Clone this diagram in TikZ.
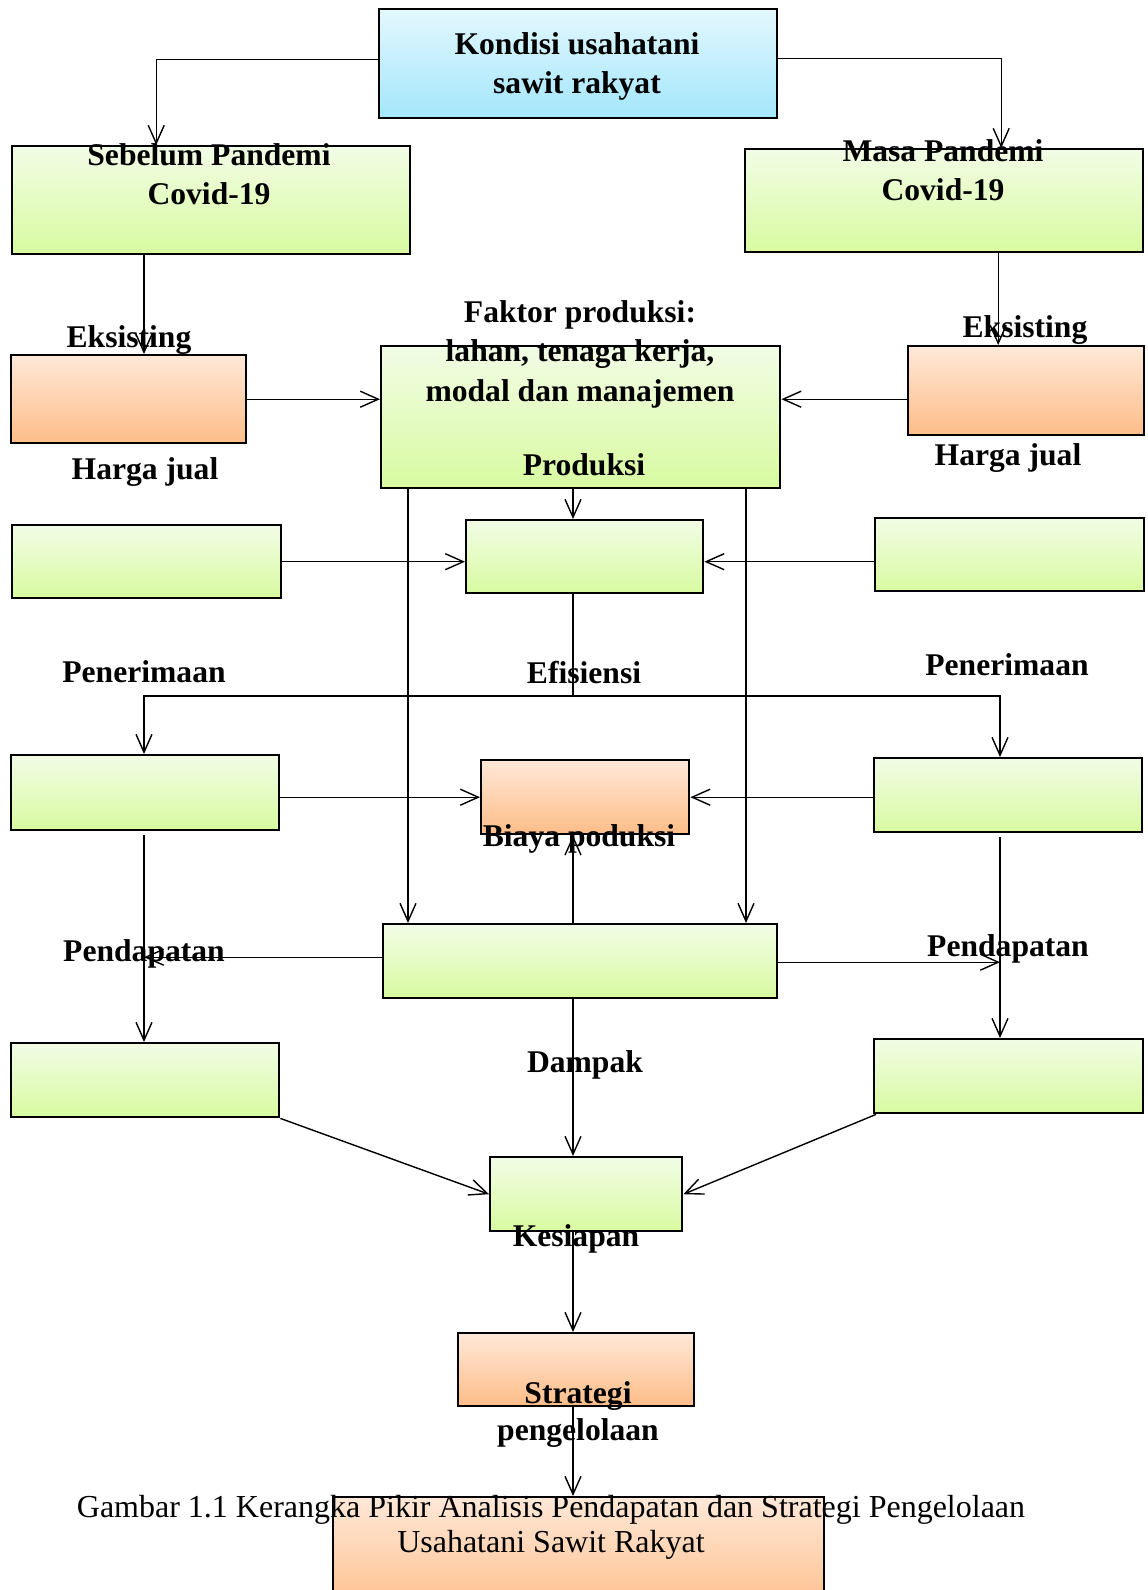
\documentclass[tikz,border=0pt]{standalone}
\usepackage{fontspec}
\setmainfont{Liberation Serif}
\usetikzlibrary{arrows.meta,calc}
\definecolor{gTop}{HTML}{F2FCE6}
\definecolor{gBot}{HTML}{D8FBA0}
\definecolor{bTop}{HTML}{E3F8FE}
\definecolor{bBot}{HTML}{A3E6FB}
\definecolor{oTop}{HTML}{FFE8D8}
\definecolor{oBot}{HTML}{FDBD88}
\tikzset{
  basebox/.style={draw, line width=1.2pt, inner sep=0pt, anchor=north west, rectangle},
  gbox/.style={basebox, top color=gTop, bottom color=gBot},
  bluebox/.style={basebox, top color=bTop, bottom color=bBot},
  obox/.style={basebox, top color=oTop, bottom color=oBot},
  lbl/.style={font=\fontsize{15.8}{19.75}\selectfont\bfseries, align=center, inner sep=0pt},
  captext/.style={font=\fontsize{16}{17.5}\selectfont, align=center, inner sep=0pt},
  arr/.style={-{Straight Barb[length=9pt,width=8pt]}, line width=0.7pt},
  ln/.style={line width=0.7pt},
}
\begin{document}
\begin{tikzpicture}[x=0.5pt,y=-0.5pt]
\useasboundingbox (0,0) rectangle (1147,1590);
% boxes
\node[bluebox, minimum width=199pt, minimum height=54.5pt] (top) at (378,8) {};
\node[gbox, minimum width=199pt, minimum height=54pt] (sebelum) at (11,145) {};
\node[gbox, minimum width=199pt, minimum height=51.5pt] (masa) at (744,148) {};
\node[obox, minimum width=117.5pt, minimum height=44pt] (hargaL) at (10,354) {};
\node[gbox, minimum width=199.5pt, minimum height=71pt] (faktor) at (380,345) {};
\node[obox, minimum width=118pt, minimum height=44.5pt] (hargaR) at (907,345) {};
\node[gbox, minimum width=134.5pt, minimum height=36.5pt] (r2L) at (11,524) {};
\node[gbox, minimum width=118.5pt, minimum height=36.5pt] (r2C) at (465,519) {};
\node[gbox, minimum width=134.5pt, minimum height=36.5pt] (r2R) at (874,517) {};
\node[gbox, minimum width=134pt, minimum height=37.5pt] (r3L) at (10,754) {};
\node[obox, minimum width=104pt, minimum height=37pt] (r3C) at (480,759) {};
\node[gbox, minimum width=134pt, minimum height=37pt] (r3R) at (873,757) {};
\node[gbox, minimum width=197pt, minimum height=37pt] (mid) at (382,923) {};
\node[gbox, minimum width=134pt, minimum height=37pt] (r4L) at (10,1042) {};
\node[gbox, minimum width=134.5pt, minimum height=37pt] (r4R) at (873,1038) {};
\node[gbox, minimum width=96pt, minimum height=37pt] (kes) at (489,1156) {};
\node[obox, minimum width=118pt, minimum height=36.5pt] (strat) at (457,1332) {};
\node[obox, minimum width=245.5pt, minimum height=60pt] (last) at (332,1496) {};
% helper coordinates
\coordinate (lx) at (144,0);
\coordinate (rx) at (1000,0);
\coordinate (cx) at (573,0);
\coordinate (clx) at (408,0);
\coordinate (crx) at (746,0);
\coordinate (jn) at (573,696);
% labels
\node[lbl] (tTop) at (577,66.5) {Kondisi usahatani\\sawit rakyat};
\node[lbl] (tSeb) at (209,174) {Sebelum Pandemi\\Covid-19};
\node[lbl] (tMasa) at (943,170) {Masa Pandemi\\Covid-19};
\node[lbl] (tEksL) at (129,340) {Eksisting};
\node[lbl] (tHjL) at (145,472) {Harga jual};
\node[lbl] (tFak) at (580,354) {Faktor produksi:\\lahan, tenaga kerja,\\modal dan manajemen};
\node[lbl] (tProd) at (584,465) {Produksi};
\node[lbl] (tEksR) at (1025,330) {Eksisting};
\node[lbl] (tHjR) at (1008,458) {Harga jual};
\node[lbl] (tPenL) at (144,672) {Penerimaan};
\node[lbl] (tEfi) at (584,673) {Efisiensi};
\node[lbl] (tPenR) at (1007,665) {Penerimaan};
\node[lbl] (tBia) at (579,839) {Biaya poduksi};
\node[lbl] (tPdL) at (144,954) {Pendapatan};
\node[lbl] (tPdR) at (1008,949) {Pendapatan};
\node[lbl] (tDam) at (585,1065) {Dampak};
\node[lbl] (tKes) at (576,1239) {Kesiapan};
\node[lbl, font=\fontsize{15.8}{18.5}\selectfont\bfseries] (tStr) at (578,1414.5) {Strategi\\pengelolaan};
% connectors
\draw[arr] ([yshift=2.25pt]top.west) -| ([xshift=-27.5pt]sebelum.north);
\draw[arr] ([yshift=2.75pt]top.east) -| ([xshift=28.5pt]masa.north);
\draw[arr] (sebelum.south -| lx) -- (hargaL.north -| lx);
\draw[arr] ([xshift=27pt]masa.south) -- ([xshift=27pt]masa.south |- hargaR.north);
\draw[arr] (hargaL.east) -- (hargaL.east -| faktor.west);
\draw[arr] (hargaR.west |- hargaL.east) -- (faktor.east |- hargaL.east);
\draw[arr] (faktor.south -| cx) -- (r2C.north -| cx);
\draw[arr] (faktor.south -| clx) -- (mid.north -| clx);
\draw[arr] (faktor.south -| crx) -- (mid.north -| crx);
\draw[arr] (r2L.east) -- (r2L.east -| r2C.west);
\draw[arr] (r2R.west |- r2L.east) -- (r2C.east |- r2L.east);
\draw[ln] (r2C.south -| cx) -- (jn);
\draw[arr] (jn) -| (r3L.north -| lx);
\draw[arr] (jn) -| (r3R.north -| rx);
\draw[arr] (r3L.east |- r3C.west) -- (r3C.west);
\draw[arr] (r3R.west |- r3C.east) -- (r3C.east);
\draw[arr] (mid.north -| cx) -- (r3C.south -| cx);
\draw[arr] ([yshift=-2pt]r3L.south -| lx) -- (r4L.north -| lx);
\draw[arr] ([yshift=-2pt]r3R.south -| rx) -- (r4R.north -| rx);
\draw[arr] ([yshift=2pt]mid.west) -- ([yshift=2pt]mid.west -| lx);
\draw[arr] ([yshift=-0.5pt]mid.east) -- ([yshift=-0.5pt]mid.east -| rx);
\draw[arr] (mid.south -| cx) -- (kes.north -| cx);
\draw[arr] (r4L.south east) -- (kes.west);
\draw[arr] ([xshift=1.5pt]r4R.south west) -- (kes.east);
\draw[arr] (kes.south -| cx) -- (strat.north -| cx);
\draw[arr] (strat.south -| cx) -- (last.north -| cx);
% caption
\node[captext] (caption) at (551,1527.5) {Gambar 1.1 Kerangka Pikir Analisis Pendapatan dan Strategi Pengelolaan\\Usahatani Sawit Rakyat};
\end{tikzpicture}
\end{document}
